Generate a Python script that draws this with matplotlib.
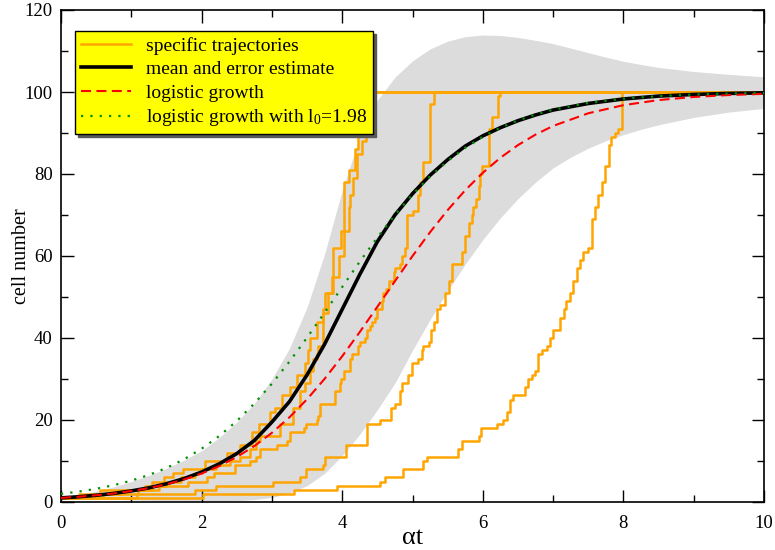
import matplotlib
matplotlib.use("Agg")
import matplotlib.pyplot as plt
from matplotlib.lines import Line2D

plt.rcParams['font.family'] = ['Liberation Serif', 'DejaVu Serif']
plt.rcParams['mathtext.fontset'] = 'custom'
plt.rcParams['mathtext.rm'] = 'Liberation Serif'
plt.rcParams['mathtext.it'] = 'Liberation Serif:italic'

# ---------------- data ----------------
curve_x = [0, 0.25, 0.5, 0.75, 1.0, 1.25, 1.5, 1.75, 2.0, 2.25, 2.5, 2.75, 3.0,
           3.25, 3.5, 3.75, 4.0, 4.25, 4.5, 4.75, 5.0, 5.25, 5.5, 5.75, 6.0,
           6.25, 6.5, 6.75, 7.0, 7.5, 8.0, 8.5, 9.0, 9.5, 10.0]
mean_y = [1.0, 1.28, 1.64, 2.1, 2.7, 3.45, 4.45, 5.7, 7.3, 9.3, 11.8, 15.0, 19.5,
          24.5, 31.0, 38.5, 47.0, 55.5, 63.5, 70.0, 75.2, 79.7, 83.5, 86.8, 89.3,
          91.3, 93.0, 94.4, 95.6, 97.2, 98.3, 99.0, 99.4, 99.65, 99.8]
logistic_y = [1.0, 1.28, 1.64, 2.09, 2.67, 3.40, 4.33, 5.49, 6.94, 8.75, 10.96,
              13.64, 16.87, 20.67, 25.06, 30.05, 35.55, 41.46, 47.62, 53.86,
              59.99, 65.81, 71.19, 76.04, 80.30, 83.96, 87.05, 89.61, 91.72,
              94.81, 96.79, 98.03, 98.79, 99.26, 99.55]
logistic_l0_y = [1.98, 2.53, 3.22, 4.10, 5.21, 6.59, 8.30, 10.41, 12.99, 16.08,
                 19.75, 24.02, 28.86, 34.26, 40.08, 46.21, 52.44, 58.62, 64.52,
                 70.02, 74.99, 79.38, 83.17, 86.39, 89.07, 91.28, 93.07, 94.52,
                 95.68, 97.34, 98.37, 99.00, 99.39, 99.63, 99.78]

band_x = [0, 0.25, 0.5, 0.75, 1.0, 1.25, 1.5, 1.75, 2.0, 2.25, 2.5, 2.75, 3.0,
          3.25, 3.5, 3.75, 4.0, 4.25, 4.5, 4.75, 5.0, 5.25, 5.5, 5.75, 6.0,
          6.25, 6.5, 6.75, 7.0, 7.25, 7.5, 7.75, 8.0, 8.25, 8.5, 9.0, 9.5, 10.0]
band_hi = [1.0, 1.7, 2.6, 3.7, 5.0, 6.5, 8.2, 10.2, 12.5, 15.7, 19.5, 24.0, 30.0,
           37.5, 47.5, 60.5, 76.0, 89.0, 98.0, 103.6, 107.6, 110.5, 112.4,
           113.5, 113.9, 113.8, 113.3, 112.6, 111.8, 110.7, 109.6, 108.5,
           107.5, 106.7, 106.0, 105.0, 104.3, 103.7]
band_lo = [1.0, 0.9, 0.8, 0.65, 0.5, 0.4, 0.3, 0.25, 0.2, 0.2, 0.3, 0.6, 1.1,
           2.2, 4.0, 7.0, 11.3, 16.5, 22.5, 29.0, 37.0, 44.5, 51.5, 58.0, 64.0,
           69.3, 74.0, 78.0, 81.5, 84.1, 86.3, 88.1, 89.6, 90.9, 92.0, 93.8,
           95.1, 96.0]

traj_a1_t = [0, 0.55, 1.29, 1.46, 1.60, 1.74, 2.05, 2.36, 2.55, 2.71, 2.81, 2.97,
             3.04, 3.14, 3.26, 3.35, 3.47, 3.52, 3.54, 3.64, 3.73, 3.76, 3.85,
             3.87, 3.99, 4.02, 4.09, 4.18, 4.22, 4.26, 4.30, 10.0]
traj_a1_n = [1, 3, 5, 6, 7, 8, 10, 12, 14, 17, 19, 22, 23, 26, 28, 31, 34, 37, 40,
             44, 47, 51, 55, 62, 66, 78, 81, 86, 90, 95, 100, 100]

traj_a2_t = [0, 0.25, 0.9, 1.2, 1.5, 1.7, 1.9, 2.0, 2.2, 2.4, 2.55, 2.69, 2.78,
             2.83, 3.12, 3.30, 3.40, 3.47, 3.54, 3.59, 3.64, 3.66, 3.73, 3.80,
             3.87, 3.95, 4.02, 4.09, 4.11, 4.16, 4.21, 4.28, 4.34, 4.40, 10.0]
traj_a2_n = [1, 2, 3, 4, 5, 6, 7, 8, 9, 10, 11, 13, 15, 16, 19, 23, 27, 29, 32,
             35, 36, 38, 46, 51, 55, 60, 66, 72, 75, 79, 85, 88, 92, 100, 100]

traj_b_t = [0, 0.6, 1.1, 1.4, 1.8, 2.07, 2.17, 2.48, 2.69, 2.78, 2.83, 3.07, 3.21,
            3.26, 3.45, 3.49, 3.64, 3.66, 3.68, 3.90, 3.97, 3.99, 4.02, 4.11,
            4.14, 4.23, 4.25, 4.32, 4.35, 4.40, 4.42, 4.47, 4.49, 4.56, 4.58,
            4.63, 4.66, 4.73, 4.75, 4.82, 4.85, 4.89, 4.92, 5.01, 5.08, 5.11,
            5.15, 5.25, 5.30, 10.0]
traj_b_n = [1, 2, 3, 4, 5, 6, 7, 9, 10, 11, 13, 14, 15, 17, 18, 19, 20, 21, 24,
            27, 29, 30, 32, 35, 36, 38, 39, 40, 42, 43, 44, 45, 47, 49, 51, 52,
            54, 56, 57, 58, 60, 62, 70, 71, 75, 78, 83, 97, 100, 100]

traj_c_t = [0, 1.08, 1.9, 2.21, 3.02, 3.40, 3.49, 3.73, 3.76, 4.06, 4.35, 4.54,
            4.70, 4.75, 4.82, 4.85, 4.93, 4.99, 5.08, 5.13, 5.15, 5.23, 5.27,
            5.31, 5.35, 5.39, 5.46, 5.52, 5.56, 5.70, 5.75, 5.81, 5.84, 5.86,
            5.90, 5.94, 5.96, 5.99, 6.09, 6.13, 6.21, 6.244, 10.0]
traj_c_n = [1, 2, 3, 4, 5, 6, 8, 9, 11, 14, 19, 20, 23, 24, 27, 29, 31, 34, 35,
            37, 38, 39, 42, 44, 47, 48, 51, 54, 58, 61, 65, 68, 70, 72, 74, 77,
            80, 82, 91, 94, 99, 100, 100]

traj_d_t = [0, 2.02, 3.31, 3.92, 4.54, 4.61, 4.87, 5.15, 5.20, 5.65, 5.70, 5.94,
            5.98, 6.20, 6.29, 6.34, 6.39, 6.43, 6.60, 6.65, 6.70, 6.74, 6.79,
            6.84, 6.91, 6.96, 7.00, 7.10, 7.15, 7.19, 7.24, 7.29, 7.34, 7.38,
            7.43, 7.50, 7.55, 7.60, 7.64, 7.69, 7.74, 7.79, 7.83, 7.88, 7.93,
            7.975, 10.0]
traj_d_n = [1, 2, 3, 4, 5, 6, 8, 10, 11, 13, 15, 16, 18, 19, 20, 22, 25, 26, 28,
            30, 31, 32, 36, 37, 38, 40, 42, 45, 47, 49, 51, 54, 57, 59, 61, 62,
            69, 72, 75, 78, 82, 87, 89, 90, 91, 100, 100]

trajectories = [(traj_a1_t, traj_a1_n), (traj_a2_t, traj_a2_n),
                (traj_b_t, traj_b_n), (traj_c_t, traj_c_n),
                (traj_d_t, traj_d_n)]

labels = ["specific trajectories", "mean and error estimate",
          "logistic growth", r"logistic growth with l$_{\mathrm{0}}$=1.98"]
x_ticks = [0, 2, 4, 6, 8, 10]
y_ticks = [0, 20, 40, 60, 80, 100, 120]

# ---------------- figure ----------------
fig = plt.figure(figsize=(7.75, 5.5), dpi=100)
ax = fig.add_axes([61 / 775, 48 / 550, 703 / 775, 492 / 550])

ax.fill_between(band_x, band_lo, band_hi, color='#dcdcdc', lw=0, zorder=1)

ORANGE = '#ffa500'
for t, n in trajectories:
    ax.step(t, n, where='post', color=ORANGE, lw=1.8, zorder=2)

ax.plot(curve_x, mean_y, color='black', lw=2.6, zorder=3,
        solid_capstyle='butt')
ax.plot(curve_x, logistic_y, color='#ff0000', lw=1.5, ls=(0, (4.8, 2.6)),
        zorder=4)
ax.plot(curve_x, logistic_l0_y, color='#009000', lw=1.6, ls=(0, (1, 3.2)),
        zorder=5)

ax.set_xlim(0, 10)
ax.set_ylim(0, 120)
ax.set_xticks(x_ticks)
ax.set_yticks(y_ticks)
ax.set_xticks([1, 3, 5, 7, 9], minor=True)
ax.set_yticks([10, 30, 50, 70, 90, 110], minor=True)
ax.tick_params(which='both', direction='in', top=True, right=True,
               labelsize=13.5, width=1.0)
ax.tick_params(which='major', length=9)
ax.tick_params(which='minor', length=5)
ax.tick_params(axis='x', pad=9)
ax.tick_params(axis='y', pad=6)
for s in ax.spines.values():
    s.set_linewidth(1.2)

ax.set_xlabel("αt", fontsize=19)
ax.xaxis.set_label_coords(0.5, (502 - 538) / 492)
ax.xaxis.label.set_va('center')
ax.set_ylabel("cell number", fontsize=14.5)
ax.yaxis.set_label_coords((22 - 61) / 703, 0.5)
ax.yaxis.label.set_va('center')

handles = [Line2D([], [], color=ORANGE, lw=1.8),
           Line2D([], [], color='black', lw=2.6),
           Line2D([], [], color='#ff0000', lw=1.5, ls=(0, (4.8, 2.6))),
           Line2D([], [], color='#009000', lw=1.6, ls=(0, (1, 3.2)))]
leg = ax.legend(handles, labels, loc='upper left',
                bbox_to_anchor=(14 / 703, (502 - 31) / 492), borderaxespad=0,
                fontsize=14, frameon=True, fancybox=False,
                shadow={'color': '0.35', 'alpha': 1.0},
                handlelength=2.6, handletextpad=0.75, labelspacing=0.3,
                borderpad=0.3)
frame = leg.get_frame()
frame.set_facecolor('#ffff00')
frame.set_edgecolor('black')
frame.set_linewidth(1.0)
frame.set_alpha(1.0)
leg.set_zorder(10)

fig.savefig("out.png", dpi=100)
